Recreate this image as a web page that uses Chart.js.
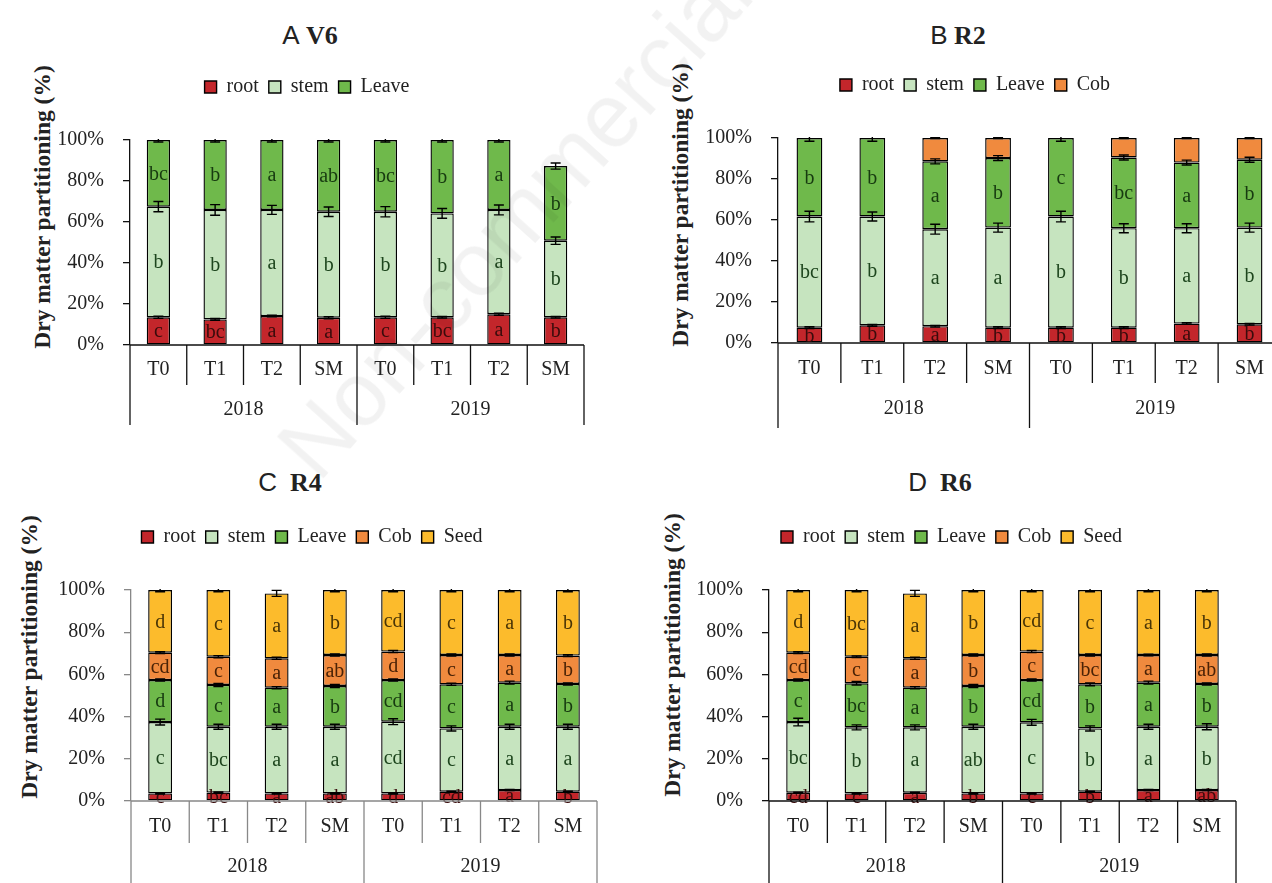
<!DOCTYPE html>
<html>
<head>
<meta charset="utf-8">
<title>Dry matter partitioning</title>
<script src="https://cdn.jsdelivr.net/npm/chart.js@4.4.1/dist/chart.umd.min.js"></script>
<style>
  html, body { margin: 0; padding: 0; background: #fff; width: 1272px; height: 883px; overflow: hidden; }
  .panel { position: absolute; }
  .ttl { position: absolute; transform: translate(-50%, -50%); white-space: nowrap; font-size: 26px; color: #222; }
  .ttl .lt { font-family: "Liberation Sans", Arial, sans-serif; }
  .ttl .st { font-family: "Liberation Serif", serif; font-weight: bold; }
  .ytl { position: absolute; transform: translate(-50%, -50%) rotate(-90deg); white-space: nowrap;
         font: bold 23.5px "Liberation Serif", serif; color: #222; }
  .wm { position: absolute; left: 515px; top: 220px; transform: translate(-50%, -50%) rotate(-48deg);
        font: 90px "Liberation Sans", Arial, sans-serif; color: rgba(0, 0, 0, 0.05); white-space: nowrap;
        pointer-events: none; z-index: 5; }
</style>
</head>
<body>

<div class="ttl" style="left:310px; top:35px"><span class="lt">A</span> <span class="st">V6</span></div>
<div class="ttl" style="left:958px; top:35px"><span class="lt">B</span> <span class="st">R2</span></div>
<div class="ttl" style="left:290px; top:482px"><span class="lt">C</span>&nbsp; <span class="st">R4</span></div>
<div class="ttl" style="left:940px; top:482px"><span class="lt">D</span>&nbsp; <span class="st">R6</span></div>

<div class="ytl" style="left:42px; top:207px">Dry matter partitioning (%)</div>
<div class="ytl" style="left:680px; top:205px">Dry matter partitioning (%)</div>
<div class="ytl" style="left:29px; top:657px">Dry matter partitioning (%)</div>
<div class="ytl" style="left:672px; top:655px">Dry matter partitioning (%)</div>

<canvas class="panel" id="chartV6" width="636" height="440" style="left:0; top:0"></canvas>
<canvas class="panel" id="chartR2" width="650" height="440" style="left:636px; top:0"></canvas>
<canvas class="panel" id="chartR4" width="636" height="443" style="left:0; top:440px"></canvas>
<canvas class="panel" id="chartR6" width="636" height="443" style="left:636px; top:440px"></canvas>

<div class="wm">Non-commercial</div>

<script>
const categories = ['T0', 'T1', 'T2', 'SM', 'T0', 'T1', 'T2', 'SM'];
const years = ['2018', '2019'];
const organs = ['root', 'stem', 'Leave', 'Cob', 'Seed'];
const organColors = ['#c3262b', '#c6e4bf', '#6fb94b', '#f08a3e', '#fcbb2c'];
const letterColors = ['#3a0c0c', '#1d451d', '#173a10', '#4a2206', '#4a3506'];

// V6 stage (%)
const v6Root  = [13.5, 12.5, 14.1, 13.3, 13.5, 13.5, 15.0, 13.5];
const v6Stem  = [54.0, 53.4, 51.8, 51.7, 51.5, 50.7, 50.9, 37.4];
const v6Leave = [32.5, 34.1, 34.1, 35.0, 35.0, 35.8, 34.1, 36.4];
const v6RootErr  = [0.5, 0.4, 0.4, 0.5, 0.5, 0.4, 0.5, 0.4];
const v6StemErr  = [2.5, 2.6, 2.2, 2.3, 2.5, 2.4, 2.4, 1.8];
const v6LeaveErr = [1.0, 1.0, 1.0, 1.0, 1.0, 1.0, 1.0, 1.5];
const v6RootSig  = ['c', 'bc', 'a', 'a', 'c', 'bc', 'a', 'b'];
const v6StemSig  = ['b', 'b', 'a', 'b', 'b', 'b', 'a', 'b'];
const v6LeaveSig = ['bc', 'b', 'a', 'ab', 'bc', 'b', 'a', 'b'];

// R2 stage (%)
const r2Root  = [7.5, 8.6, 8.2, 7.5, 7.5, 7.5, 9.5, 9.1];
const r2Stem  = [54.2, 53.1, 47.3, 48.8, 54.2, 48.5, 46.5, 47.2];
const r2Leave = [38.3, 38.3, 33.1, 33.9, 38.3, 34.5, 32.0, 33.1];
const r2Cob   = [0, 0, 11.4, 9.8, 0, 9.5, 12.0, 10.6];
const r2RootErr  = [0.4, 0.4, 0.4, 0.4, 0.4, 0.4, 0.4, 0.4];
const r2StemErr  = [2.6, 2.2, 2.4, 2.2, 2.6, 2.2, 2.2, 2.2];
const r2LeaveErr = [1.6, 1.6, 1.2, 1.2, 1.6, 1.2, 1.2, 1.2];
const r2CobErr   = [0, 0, 0.3, 0.3, 0, 0.3, 0.3, 0.3];
const r2RootSig  = ['b', 'b', 'a', 'b', 'b', 'b', 'a', 'b'];
const r2StemSig  = ['bc', 'b', 'a', 'a', 'b', 'b', 'a', 'b'];
const r2LeaveSig = ['b', 'b', 'a', 'b', 'c', 'bc', 'a', 'b'];
const r2CobSig   = ['', '', '', '', '', '', '', ''];

// R4 stage (%)
const r4Root  = [3.6, 4.0, 3.6, 3.6, 3.6, 4.4, 5.2, 4.4];
const r4Stem  = [33.8, 31.2, 31.6, 31.6, 34.0, 30.0, 30.0, 30.8];
const r4Leave = [19.9, 19.8, 18.5, 19.3, 19.7, 20.9, 20.9, 20.3];
const r4Cob   = [13.0, 13.4, 13.9, 14.7, 13.5, 13.9, 13.1, 13.4];
const r4Seed  = [29.7, 31.6, 30.8, 30.8, 29.2, 30.8, 30.8, 31.1];
const r4RootErr  = [0.3, 0.3, 0.3, 0.3, 0.3, 0.3, 0.3, 0.3];
const r4StemErr  = [1.4, 1.2, 1.2, 1.2, 1.4, 1.2, 1.2, 1.2];
const r4LeaveErr = [0.5, 0.7, 0.5, 0.7, 0.5, 0.5, 0.7, 0.5];
const r4CobErr   = [0.4, 0.5, 0.5, 0.5, 0.5, 0.5, 0.5, 0.4];
const r4SeedErr  = [0.8, 0.8, 1.4, 0.8, 0.8, 0.8, 0.8, 0.8];
const r4RootSig  = ['c', 'bc', 'a', 'ab', 'd', 'cd', 'a', 'b'];
const r4StemSig  = ['c', 'bc', 'a', 'a', 'cd', 'c', 'a', 'a'];
const r4LeaveSig = ['d', 'c', 'a', 'b', 'cd', 'c', 'a', 'b'];
const r4CobSig   = ['cd', 'c', 'a', 'ab', 'd', 'c', 'a', 'b'];
const r4SeedSig  = ['d', 'c', 'a', 'b', 'cd', 'c', 'a', 'b'];

// R6 stage (%)
const r6Root  = [3.9, 3.6, 3.9, 3.6, 3.6, 4.4, 5.2, 5.2];
const r6Stem  = [33.5, 31.3, 31.0, 31.6, 33.7, 30.0, 30.0, 30.0];
const r6Leave = [19.9, 20.9, 18.8, 19.3, 20.0, 20.9, 20.9, 20.3];
const r6Cob   = [13.0, 12.6, 13.9, 14.7, 13.5, 13.9, 13.1, 13.7];
const r6Seed  = [29.7, 31.6, 30.8, 30.8, 29.2, 30.8, 30.8, 30.8];
const r6RootErr  = [0.3, 0.3, 0.3, 0.3, 0.3, 0.3, 0.3, 0.3];
const r6StemErr  = [1.8, 1.2, 1.2, 1.2, 1.4, 1.2, 1.2, 1.4];
const r6LeaveErr = [0.5, 0.8, 0.5, 0.7, 0.5, 0.7, 0.7, 0.5];
const r6CobErr   = [0.4, 0.4, 0.5, 0.5, 0.5, 0.5, 0.4, 0.5];
const r6SeedErr  = [0.8, 0.8, 1.4, 0.8, 0.8, 0.8, 0.8, 0.8];
const r6RootSig  = ['cd', 'c', 'a', 'b', 'c', 'b', 'a', 'ab'];
const r6StemSig  = ['bc', 'b', 'a', 'ab', 'c', 'b', 'a', 'b'];
const r6LeaveSig = ['c', 'bc', 'a', 'b', 'cd', 'b', 'a', 'b'];
const r6CobSig   = ['cd', 'c', 'a', 'b', 'c', 'bc', 'a', 'ab'];
const r6SeedSig  = ['d', 'bc', 'a', 'b', 'cd', 'c', 'a', 'b'];

const SERIF = '"Liberation Serif", "Times New Roman", serif';
Chart.defaults.font.family = SERIF;
Chart.defaults.color = '#222';

// keep a fixed gap between the legend row and the plot
const legendGap = {
  id: 'legendGap',
  beforeLayout(chart, args, opts) {
    const lg = chart.legend;
    if (lg && !lg._gapPatched) {
      const fit = lg.fit;
      lg.fit = function () { fit.call(this); this.height = opts.height; };
      lg._gapPatched = true;
    }
  }
};

// significance letters centred in each segment
const letters = {
  id: 'letters',
  afterDatasetsDraw(chart) {
    const { ctx, scales: { x, y } } = chart;
    const sums = new Array(chart.data.labels.length).fill(0);
    ctx.save();
    ctx.font = '20px ' + SERIF;
    ctx.textAlign = 'center';
    ctx.textBaseline = 'middle';
    chart.data.datasets.forEach(ds => {
      ds.data.forEach((v, i) => {
        const base = sums[i];
        sums[i] += v;
        if (!v || !ds.sig[i]) return;
        const yMid = (y.getPixelForValue(base) + y.getPixelForValue(sums[i])) / 2;
        ctx.fillStyle = ds.sigColor;
        ctx.fillText(ds.sig[i], x.getPixelForValue(i), yMid + 1);
      });
    });
    ctx.restore();
  }
};

// standard error whiskers at the top of each segment
const errorBars = {
  id: 'errorBars',
  afterDatasetsDraw(chart) {
    const { ctx, chartArea, scales: { x, y } } = chart;
    const sums = new Array(chart.data.labels.length).fill(0);
    ctx.save();
    ctx.beginPath();
    ctx.rect(chartArea.left, chartArea.top - 1, chartArea.width, chartArea.height + 1);
    ctx.clip();
    ctx.strokeStyle = '#000';
    ctx.lineWidth = 1.4;
    chart.data.datasets.forEach(ds => {
      ds.data.forEach((v, i) => {
        sums[i] += v;
        const e = ds.err[i];
        if (!v || !e) return;
        const cx = x.getPixelForValue(i);
        const y1 = y.getPixelForValue(sums[i] + e);
        const y0 = y.getPixelForValue(sums[i] - e);
        ctx.beginPath();
        ctx.moveTo(cx, y1); ctx.lineTo(cx, y0);
        ctx.moveTo(cx - 5, y1); ctx.lineTo(cx + 5, y1);
        ctx.moveTo(cx - 5, y0); ctx.lineTo(cx + 5, y0);
        ctx.stroke();
      });
    });
    ctx.restore();
  }
};

// two-level category axis: treatments, then years, with separator lines
const groupAxis = {
  id: 'groupAxis',
  afterDraw(chart, args, o) {
    const { ctx, chartArea: { left, right, bottom }, scales: { x } } = chart;
    const n = chart.data.labels.length;
    const w = (right - left) / n;
    ctx.save();
    ctx.strokeStyle = o.color;
    ctx.lineWidth = 1.3;
    ctx.beginPath();
    ctx.moveTo(left, bottom); ctx.lineTo(right, bottom);
    for (let i = 0; i <= n; i++) {
      const xx = (i < n ? x.getPixelForValue(i) : x.getPixelForValue(n - 1) + w) - w / 2;
      ctx.moveTo(xx, bottom);
      ctx.lineTo(xx, bottom + (i % 4 === 0 ? o.long : o.short));
    }
    ctx.stroke();
    ctx.font = '20px ' + SERIF;
    ctx.fillStyle = '#222';
    ctx.textAlign = 'center';
    ctx.textBaseline = 'middle';
    chart.data.labels.forEach((lab, i) => ctx.fillText(lab, x.getPixelForValue(i), bottom + o.catY));
    years.forEach((yr, g) => {
      const cx = (x.getPixelForValue(g * 4 + 1) + x.getPixelForValue(g * 4 + 2)) / 2;
      ctx.fillText(yr, cx, bottom + o.yearY);
    });
    ctx.restore();
  }
};

function makeChart(id, series, errs, sigs, lay) {
  const datasets = series.map((data, k) => ({
    label: organs[k],
    data: data,
    err: errs[k],
    sig: sigs[k],
    sigColor: letterColors[k],
    backgroundColor: organColors[k],
    borderColor: '#000',
    borderWidth: 1.4,
    borderSkipped: false,
    barPercentage: 0.41,
    categoryPercentage: 1.0
  }));
  return new Chart(document.getElementById(id), {
    type: 'bar',
    data: { labels: categories, datasets },
    options: {
      responsive: false,
      animation: false,
      layout: { padding: lay.padding },
      scales: {
        x: { stacked: true, display: false },
        y: {
          stacked: true,
          min: 0,
          max: 100,
          afterFit: s => { s.width = lay.yWidth; },
          ticks: { stepSize: 20, padding: 19, color: '#222', font: { size: 20 }, callback: v => v + '%' },
          grid: { drawOnChartArea: false, drawTicks: true, tickLength: 7, color: lay.axisColor, lineWidth: 1.3 },
          border: { color: lay.axisColor, width: 1.3 }
        }
      },
      plugins: {
        legend: {
          position: 'top',
          labels: { boxWidth: 12, boxHeight: 12, padding: 10, color: '#222', font: { size: 20 } }
        },
        tooltip: { enabled: false },
        legendGap: { height: 73 },
        groupAxis: { color: lay.axisColor, catY: lay.catY, yearY: lay.yearY, short: lay.short, long: lay.long }
      }
    },
    plugins: [legendGap, letters, errorBars, groupAxis]
  });
}

makeChart('chartV6',
  [v6Root, v6Stem, v6Leave],
  [v6RootErr, v6StemErr, v6LeaveErr],
  [v6RootSig, v6StemSig, v6LeaveSig],
  { padding: { top: 67, left: 30, right: 52, bottom: 95 }, yWidth: 100, axisColor: '#111',
    catY: 25, yearY: 65, short: 40, long: 80 });

makeChart('chartR2',
  [r2Root, r2Stem, r2Leave, r2Cob],
  [r2RootErr, r2StemErr, r2LeaveErr, r2CobErr],
  [r2RootSig, r2StemSig, r2LeaveSig, r2CobSig],
  { padding: { top: 65, left: 33, right: 5, bottom: 97 }, yWidth: 109, axisColor: '#111',
    catY: 26, yearY: 66, short: 40, long: 85 });

makeChart('chartR4',
  [r4Root, r4Stem, r4Leave, r4Cob, r4Seed],
  [r4RootErr, r4StemErr, r4LeaveErr, r4CobErr, r4SeedErr],
  [r4RootSig, r4StemSig, r4LeaveSig, r4CobSig, r4SeedSig],
  { padding: { top: 77, left: 27, right: 39, bottom: 82 }, yWidth: 104, axisColor: '#888',
    catY: 26, yearY: 66, short: 42, long: 90 });

makeChart('chartR6',
  [r6Root, r6Stem, r6Leave, r6Cob, r6Seed],
  [r6RootErr, r6StemErr, r6LeaveErr, r6CobErr, r6SeedErr],
  [r6RootSig, r6StemSig, r6LeaveSig, r6CobSig, r6SeedSig],
  { padding: { top: 77, left: 31, right: 36, bottom: 82 }, yWidth: 102, axisColor: '#111',
    catY: 26, yearY: 66, short: 42, long: 90 });
</script>
</body>
</html>
